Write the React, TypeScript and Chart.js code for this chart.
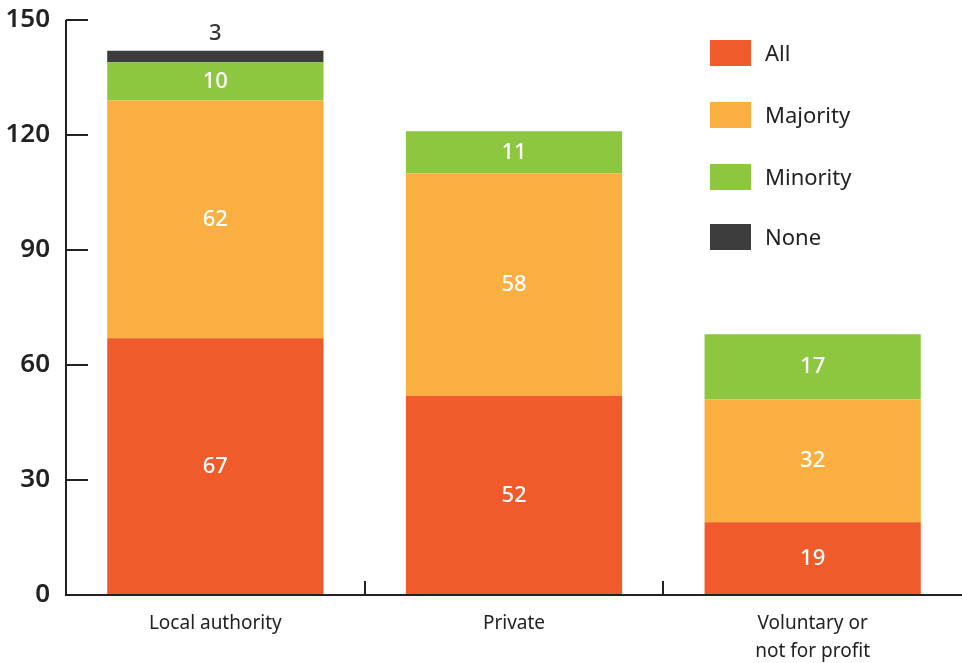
import React, { useEffect, useRef } from "react";
import { Chart, registerables } from "chart.js";

Chart.register(...registerables);

const categories: string[][] = [["Local authority"], ["Private"], ["Voluntary or", "not for profit"]];
const seriesNames = ["All", "Majority", "Minority", "None"];
const allValues = [67, 52, 19];
const majorityValues = [62, 58, 32];
const minorityValues = [10, 11, 17];
const noneValues = [3, 0, 0];
const yTicks = [0, 30, 60, 90, 120, 150];

const colors = ["#F15A2B", "#FBAF41", "#8DC63F", "#3C3C3C"];
const FONT = "'Noto Sans', 'DejaVu Sans', sans-serif";
const INK = "#222222";

const axisPlugin = {
  id: "inwardAxis",
  afterDatasetsDraw(chart: any) {
    const { ctx, chartArea, scales } = chart;
    const x = scales.x;
    const y = scales.y;
    ctx.save();
    ctx.strokeStyle = INK;
    ctx.lineWidth = 2;
    ctx.beginPath();
    ctx.moveTo(chartArea.left, chartArea.top);
    ctx.lineTo(chartArea.left, chartArea.bottom);
    ctx.lineTo(chartArea.right, chartArea.bottom);
    for (const v of yTicks) {
      const py = Math.round(y.getPixelForValue(v));
      ctx.moveTo(chartArea.left, py);
      ctx.lineTo(chartArea.left + 22, py);
    }
    for (let i = 0; i < categories.length - 1; i++) {
      const px = Math.round((x.getPixelForValue(i) + x.getPixelForValue(i + 1)) / 2);
      ctx.moveTo(px, chartArea.bottom);
      ctx.lineTo(px, chartArea.bottom - 14);
    }
    ctx.stroke();
    ctx.restore();
  },
};

const labelPlugin = {
  id: "segLabels",
  afterDatasetsDraw(chart: any) {
    const { ctx } = chart;
    ctx.save();
    ctx.font = `500 22px ${FONT}`;
    ctx.textAlign = "center";
    ctx.textBaseline = "middle";
    chart.data.datasets.forEach((ds: any, di: number) => {
      const meta = chart.getDatasetMeta(di);
      meta.data.forEach((el: any, i: number) => {
        const v = ds.data[i];
        if (!v) return;
        const props = el.getProps(["x", "y", "base"], true);
        if (di === 3) {
          ctx.fillStyle = "#333333";
          ctx.fillText(String(v), props.x, props.y - 17);
        } else {
          ctx.fillStyle = "#ffffff";
          ctx.fillText(String(v), props.x, (props.y + props.base) / 2);
        }
      });
    });
    ctx.restore();
  },
};

const legendPlugin = {
  id: "customLegend",
  afterDraw(chart: any) {
    const { ctx } = chart;
    ctx.save();
    const tops = [40, 102, 164, 224];
    ctx.font = `400 22px ${FONT}`;
    ctx.textBaseline = "middle";
    ctx.textAlign = "left";
    seriesNames.forEach((name, i) => {
      ctx.fillStyle = colors[i];
      ctx.fillRect(710, tops[i], 41, 26);
      ctx.fillStyle = INK;
      ctx.fillText(name, 765, tops[i] + 15);
    });
    ctx.restore();
  },
};

export default function App() {
  const ref = useRef<HTMLCanvasElement | null>(null);
  useEffect(() => {
    document.body.style.margin = "0";
    if (!ref.current) return;
    const datasets = [allValues, majorityValues, minorityValues, noneValues].map((d, i) => ({
      label: seriesNames[i],
      data: d,
      backgroundColor: colors[i],
      borderWidth: 0,
      categoryPercentage: 1,
      barPercentage: 0.724,
    }));
    const chart = new Chart(ref.current, {
      type: "bar",
      data: { labels: categories as any, datasets },
      options: {
        animation: false,
        responsive: false,
        maintainAspectRatio: false,
        layout: { padding: { top: 20, right: -3, left: 0, bottom: 0 } },
        plugins: { legend: { display: false }, tooltip: { enabled: false } },
        scales: {
          x: {
            stacked: true,
            grid: { display: false, drawTicks: false },
            border: { display: false },
            ticks: {
              color: INK,
              font: { family: FONT, size: 19, weight: "400", lineHeight: 1.45 } as any,
              padding: 15,
              maxRotation: 0,
              autoSkip: false,
            },
            afterFit: (s: any) => {
              s.height = 68;
              s.paddingLeft = 0;
              s.paddingRight = 0;
            },
          },
          y: {
            stacked: true,
            min: 0,
            max: 150,
            afterBuildTicks: (s: any) => {
              s.ticks = yTicks.map((v) => ({ value: v }));
            },
            grid: { display: false, drawTicks: false },
            border: { display: false },
            ticks: {
              color: INK,
              font: { family: FONT, size: 26, weight: "600" } as any,
              padding: 16,
            },
            afterFit: (s: any) => {
              s.width = 66;
              s.paddingTop = 0;
              s.paddingBottom = 0;
            },
          },
        },
      },
      plugins: [axisPlugin, labelPlugin, legendPlugin],
    });
    return () => chart.destroy();
  }, []);
  return (
    <div style={{ position: "absolute", left: 0, top: 0, width: 962, height: 663, background: "#fff" }}>
      <canvas ref={ref} width={962} height={663} style={{ display: "block", width: 962, height: 663 }} />
    </div>
  );
}
